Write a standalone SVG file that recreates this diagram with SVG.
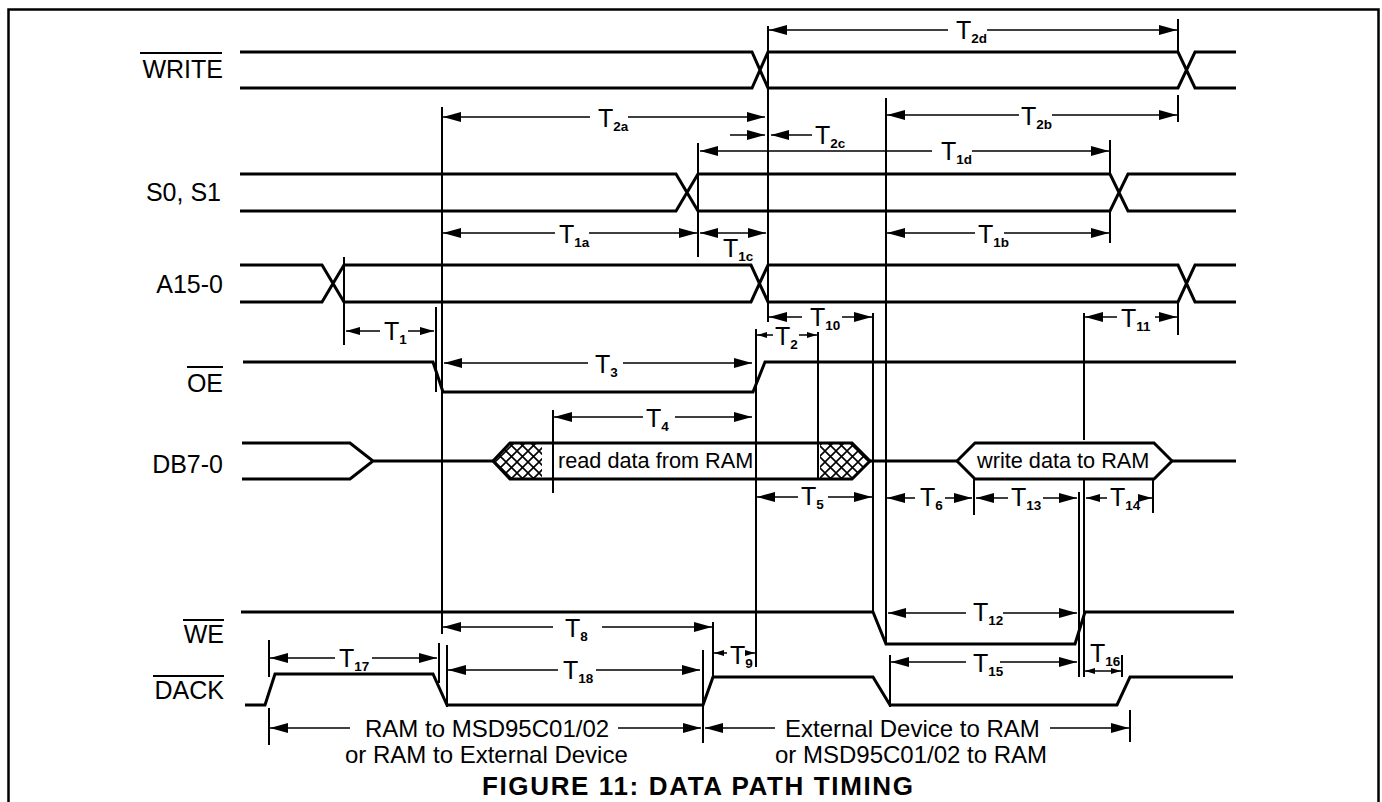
<svg xmlns="http://www.w3.org/2000/svg" width="1382" height="802" viewBox="0 0 1382 802">
<defs>
<style>
.sig{fill:none;stroke:#000;stroke-width:3;stroke-linejoin:miter}
.ref{fill:none;stroke:#000;stroke-width:2}
.dim{fill:none;stroke:#000;stroke-width:1.6}
.ov{stroke:#000;stroke-width:2}
.lbl{font-family:"Liberation Sans",Arial,sans-serif;font-size:25px;fill:#000;text-anchor:end}
.t{font-family:"Liberation Sans",Arial,sans-serif;font-size:25px;fill:#000}
.s{font-size:13.5px;font-weight:bold}
.txt{font-family:"Liberation Sans",Arial,sans-serif;font-size:24px;fill:#000}
.data{font-family:"Liberation Sans",Arial,sans-serif;font-size:21.7px;fill:#000}
.ttl{font-family:"Liberation Sans",Arial,sans-serif;font-size:26px;font-weight:bold;fill:#000}
.big{marker-start:url(#ab);marker-end:url(#ab)}
.med{marker-start:url(#am);marker-end:url(#am)}
.sml{marker-start:url(#as);marker-end:url(#as)}
.end{marker-end:url(#ab)}
</style>
<marker id="ab" viewBox="-18 -5 18 10" refX="0" refY="0" markerWidth="18" markerHeight="10" markerUnits="userSpaceOnUse" orient="auto-start-reverse"><path d="M-18,-5 L0,0 L-18,5 Z" fill="#000"/></marker>
<marker id="am" viewBox="-14 -4 14 8" refX="0" refY="0" markerWidth="14" markerHeight="8" markerUnits="userSpaceOnUse" orient="auto-start-reverse"><path d="M-14,-4 L0,0 L-14,4 Z" fill="#000"/></marker>
<marker id="as" viewBox="-10 -3 10 6" refX="0" refY="0" markerWidth="10" markerHeight="6" markerUnits="userSpaceOnUse" orient="auto-start-reverse"><path d="M-10,-3 L0,0 L-10,3 Z" fill="#000"/></marker>
<pattern id="hatch" width="11" height="11" patternUnits="userSpaceOnUse"><path d="M0,0 L11,11 M11,0 L0,11" stroke="#000" stroke-width="1.6"/></pattern>
</defs>
<rect x="0" y="0" width="1382" height="802" fill="#fff"/>
<rect x="8.5" y="9.5" width="1370" height="820" fill="none" stroke="#000" stroke-width="2.5"/>

<g id="write">
<text class="lbl" x="223" y="78">WRITE</text>
<line class="ov" x1="140" y1="53" x2="222" y2="53"/>
<path class="sig" d="M240,52 H752 L768,88 H1178 L1195,52 H1236 M240,88 H752 L768,52 H1178 L1195,88 H1236"/>
</g>
<g id="s0s1">
<text class="lbl" x="221" y="201">S0, S1</text>
<path class="sig" d="M240,174 H676 L698,211 H1110 L1128,174 H1236 M240,211 H676 L698,174 H1110 L1128,211 H1236"/>
</g>
<g id="a15">
<text class="lbl" x="223" y="293">A15-0</text>
<path class="sig" d="M240,265 H322 L344,302 H751 L768,265 H1178 L1195,302 H1236 M240,302 H322 L344,265 H751 L768,302 H1178 L1195,265 H1236"/>
</g>
<g id="oe">
<text class="lbl" x="223" y="392">OE</text>
<line class="ov" x1="187" y1="367" x2="223" y2="367"/>
<path class="sig" d="M243,362 H433 L443,392 H753 L765,362 H1236"/>
</g>
<g id="db">
<text class="lbl" x="223" y="473">DB7-0</text>
<path d="M493,461 L510,443 H542 V479 H510 Z" fill="url(#hatch)"/>
<path d="M820,443 H852 L870,461 L852,479 H820 Z" fill="url(#hatch)"/>
<path class="sig" d="M242,443 H350 L373,461 L350,479 H242 M373,461 H493 M870,461 H957 M1172,461 H1236"/>
<path class="sig" d="M493,461 L510,443 H852 L870,461 L852,479 H510 Z"/>
<path class="sig" d="M957,461 L975,443 H1154 L1172,461 L1154,479 H975 Z"/>
<text class="data" x="558" y="468">read data from RAM</text>
<text class="data" x="977" y="468">write data to RAM</text>
</g>
<g id="we">
<text class="lbl" x="224" y="643">WE</text>
<line class="ov" x1="183" y1="620" x2="224" y2="620"/>
<path class="sig" d="M241,612 H873 L886,644 H1075 L1085,612 H1234"/>
</g>
<g id="dack">
<text class="lbl" x="224" y="699">DACK</text>
<line class="ov" x1="153" y1="676" x2="224" y2="676"/>
<path class="sig" d="M245,705 H265 L275,674 H433 L447,705 H703 L713,677 H873 L890,705 H1117 L1130,677 H1233"/>
</g>

<g id="connectors">
<path class="ref" d="M344,257 V345 M442,107 V634 M436,307 V392 M439,643 V683 M447,645 V707 M768,26 V322 M698,143 V257 M756,329 V667 M818,332 V480 M553,410 V493 M873,313 V612 M886,98 V644 M890,655 V707 M1178,19 V52 M1178,95 V122 M1178,302 V335 M1110,140 V174 M1110,211 V243 M1084,313 V440 M1084,479 V677 M1079,492 V677 M974,479 V515 M1153,479 V513 M1122,655 V677 M713,622 V677 M703,650 V743 M269,640 V677 M269,708 V745 M1130,710 V742"/>

<path class="dim big" d="M769,30 H948 M987,30 H1177"/>
<path class="dim big" d="M443,117 H590 M628,117 H765"/>
<path class="dim end" d="M730,135 H765"/>
<path class="dim end" d="M812,135 H771"/>
<path class="dim big" d="M700,151 H932 M972,151 H1109"/>
<path class="dim big" d="M887,115 H1019 M1052,115 H1177"/>
<path class="dim big" d="M443,233 H555 M589,233 H697"/>
<path class="dim big" d="M700,233 H766"/>
<path class="dim big" d="M887,233 H975 M1004,233 H1109"/>
<path class="dim med" d="M346,331 H380 M408,331 H434"/>
<path class="dim big" d="M769,317 H802 M842,317 H872"/>
<path class="dim big" d="M1085,317 H1117 M1155,317 H1177"/>
<path class="dim sml" d="M757,335 H773 M799,335 H817"/>
<path class="dim big" d="M444,363 H588 M623,363 H752"/>
<path class="dim big" d="M554,417 H643 M675,417 H752"/>
<path class="dim big" d="M757,497 H798 M828,497 H872"/>
<path class="dim big" d="M887,498 H915 M945,498 H972"/>
<path class="dim big" d="M976,498 H1008 M1043,498 H1077"/>
<path class="dim med" d="M1086,498 H1107 M1140,498 H1152"/>
<path class="dim big" d="M888,613 H966 M1003,613 H1077"/>
<path class="dim big" d="M891,662 H966 M1000,662 H1077"/>
<path class="dim sml" d="M1085,671 H1121"/>
<path class="dim big" d="M443,627 H553 M602,627 H712"/>
<path class="dim sml" d="M714,653 H727 M746,653 H755"/>
<path class="dim big" d="M448,670 H558 M596,670 H700"/>
<path class="dim big" d="M270,658 H335 M372,658 H437"/>
<path class="dim end" d="M350,728 H270"/>
<path class="dim end" d="M618,728 H701"/>
<path class="dim end" d="M775,728 H705"/>
<path class="dim end" d="M1050,728 H1129"/>
</g>

<g id="timing-labels">
<text class="t" x="956" y="39">T<tspan class="s" dy="4">2d</tspan></text>
<text class="t" x="598" y="127">T<tspan class="s" dy="4">2a</tspan></text>
<text class="t" x="815" y="144">T<tspan class="s" dy="4">2c</tspan></text>
<text class="t" x="941" y="160">T<tspan class="s" dy="4">1d</tspan></text>
<text class="t" x="1021" y="125">T<tspan class="s" dy="4">2b</tspan></text>
<text class="t" x="559" y="243">T<tspan class="s" dy="4">1a</tspan></text>
<text class="t" x="723" y="257">T<tspan class="s" dy="4">1c</tspan></text>
<text class="t" x="978" y="243">T<tspan class="s" dy="4">1b</tspan></text>
<text class="t" x="384" y="340">T<tspan class="s" dy="4">1</tspan></text>
<text class="t" x="810" y="326">T<tspan class="s" dy="4">10</tspan></text>
<text class="t" x="1121" y="327">T<tspan class="s" dy="4">11</tspan></text>
<text class="t" x="775" y="345">T<tspan class="s" dy="4">2</tspan></text>
<text class="t" x="595" y="373">T<tspan class="s" dy="4">3</tspan></text>
<text class="t" x="646" y="427">T<tspan class="s" dy="4">4</tspan></text>
<text class="t" x="801" y="505">T<tspan class="s" dy="4">5</tspan></text>
<text class="t" x="920" y="506">T<tspan class="s" dy="4">6</tspan></text>
<text class="t" x="1011" y="506">T<tspan class="s" dy="4">13</tspan></text>
<text class="t" x="1110" y="506">T<tspan class="s" dy="4">14</tspan></text>
<text class="t" x="973" y="621">T<tspan class="s" dy="4">12</tspan></text>
<text class="t" x="973" y="672">T<tspan class="s" dy="4">15</tspan></text>
<text class="t" x="1090" y="662">T<tspan class="s" dy="4">16</tspan></text>
<text class="t" x="565" y="637">T<tspan class="s" dy="4">8</tspan></text>
<text class="t" x="730" y="664">T<tspan class="s" dy="4">9</tspan></text>
<text class="t" x="563" y="679">T<tspan class="s" dy="4">18</tspan></text>
<text class="t" x="339" y="667">T<tspan class="s" dy="4">17</tspan></text>
</g>

<g id="notes">
<text class="txt" x="365" y="737">RAM to MSD95C01/02</text>
<text class="txt" x="345" y="763">or RAM to External Device</text>
<text class="txt" x="785" y="737">External Device to RAM</text>
<text class="txt" x="775" y="763">or MSD95C01/02 to RAM</text>
<text class="ttl" x="482" y="795" textLength="431" lengthAdjust="spacing">FIGURE 11: DATA PATH TIMING</text>
</g>
</svg>
